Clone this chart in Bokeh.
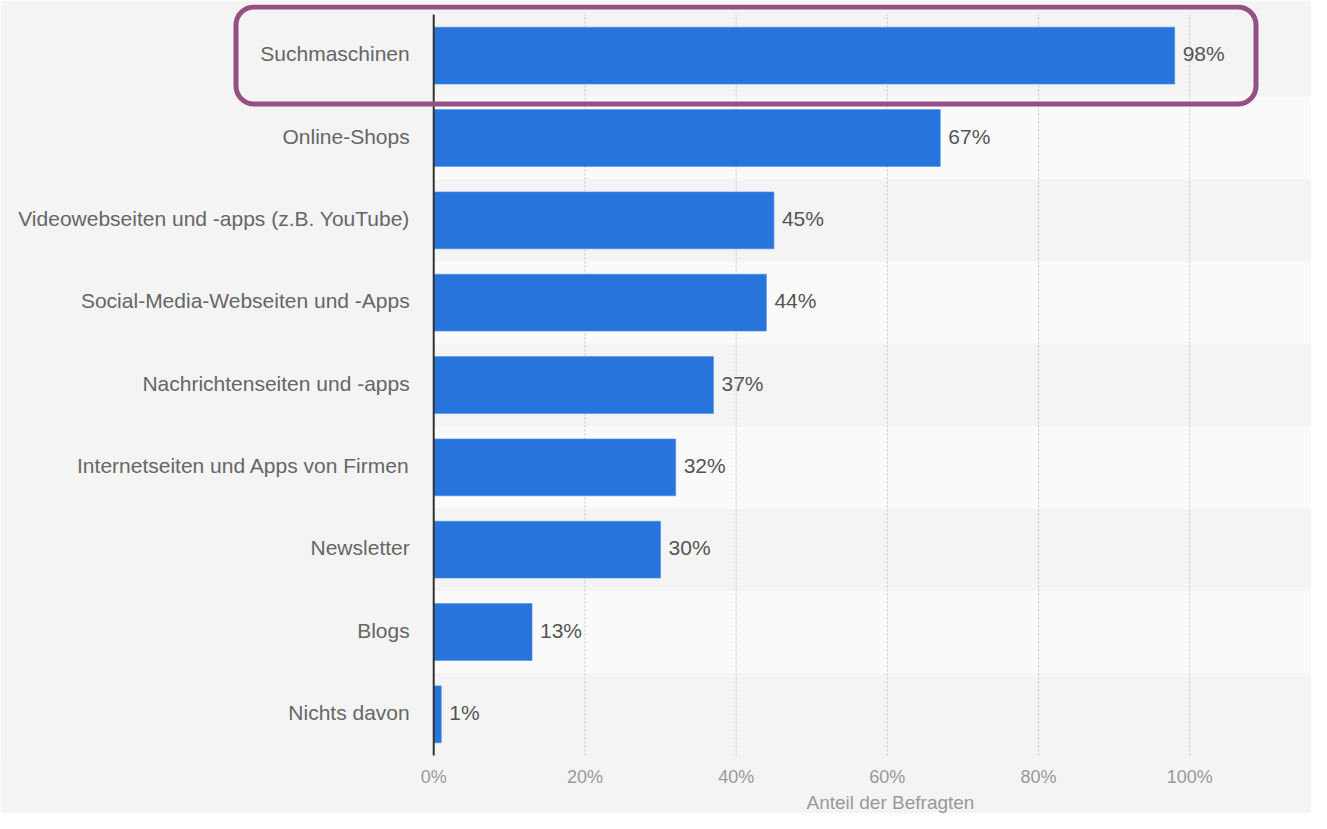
from bokeh.plotting import figure
from bokeh.models import FactorRange, Range1d, FixedTicker, BoxAnnotation, ColumnDataSource, Title
from bokeh.core.properties import value
from bokeh.transform import dodge
from bokeh.embed import file_html
from bokeh.resources import INLINE

# ---- data ----
categories = [
    "Suchmaschinen",
    "Online-Shops",
    "Videowebseiten und -apps (z.B. YouTube)",
    "Social-Media-Webseiten und -Apps",
    "Nachrichtenseiten und -apps",
    "Internetseiten und Apps von Firmen",
    "Newsletter",
    "Blogs",
    "Nichts davon",
]
shares = [98, 67, 45, 44, 37, 32, 30, 13, 1]
share_labels = ["98%", "67%", "45%", "44%", "37%", "32%", "30%", "13%", "1%"]
x_ticks = [0, 20, 40, 60, 80, 100]
x_tick_labels = ["0%", "20%", "40%", "60%", "80%", "100%"]
x_title = "Anteil der Befragten"

FONT = "Liberation Sans"
BG = "#f4f4f4"
BAND = "#fafafa"
BAR = "#2775dc"

X_START, X_END = -57.3, 116.1

p = figure(
    width=1311, height=813,
    y_range=FactorRange(factors=list(reversed(categories)),
                        range_padding=20 / 741, range_padding_units="percent"),
    x_range=Range1d(X_START, X_END),
    y_axis_location=None,
    output_backend="svg", toolbar_location=None,
    min_border_left=0, min_border_right=0, min_border_top=4, min_border_bottom=48,
)
p.background_fill_color = BG
p.border_fill_color = BG
p.outline_line_color = None
p.xgrid.grid_line_color = None
p.ygrid.grid_line_color = None

# alternating row bands (right of the axis)
band_cats = [c for i, c in enumerate(categories) if i % 2 == 1]
p.hbar(y=band_cats, left=0, right=X_END, height=1.0,
       fill_color=BAND, line_color=None)

# dotted vertical grid lines spanning the rows
grid_src = ColumnDataSource(dict(g=x_ticks[1:],
                                 top=[categories[0]] * (len(x_ticks) - 1),
                                 bot=[categories[-1]] * (len(x_ticks) - 1)))
p.segment(x0="g", x1="g",
          y0=dodge("bot", -0.5, range=p.y_range),
          y1=dodge("top", 0.5, range=p.y_range),
          source=grid_src, line_color="#c4c4c4", line_width=1, line_dash="2 2")

# bars
src = ColumnDataSource(dict(cat=categories, val=shares, lab=share_labels))
p.hbar(y="cat", left=0, right="val", height=0.69, source=src,
       fill_color=BAR, line_color="#4a8ce4", line_width=0.6)

# value labels
p.text(x="val", y="cat", text="lab", source=src, x_offset=8, y_offset=-2,
       text_baseline="middle", text_align="left",
       text_font=value(FONT), text_font_size="21px", text_color="#555555")

# category labels
p.text(x=0, y="cat", text="cat", source=src, x_offset=-24, y_offset=-2,
       text_baseline="middle", text_align="right",
       text_font=value(FONT), text_font_size="21px", text_color="#666666")

# vertical axis line at 0 %
edge_src = ColumnDataSource(dict(x=[0], top=[categories[0]], bot=[categories[-1]]))
p.segment(x0="x", x1="x",
          y0=dodge("bot", -0.5, range=p.y_range),
          y1=dodge("top", 0.5, range=p.y_range),
          source=edge_src, line_color="#333333", line_width=2)

# x axis
xa = p.xaxis[0]
xa.ticker = FixedTicker(ticks=x_ticks)
xa.major_label_overrides = {t: l for t, l in zip(x_ticks, x_tick_labels)}
xa.axis_line_color = None
xa.major_tick_line_color = None
xa.minor_tick_line_color = None
xa.major_tick_out = 0
xa.major_tick_in = 0
xa.minor_tick_out = 0
xa.major_label_standoff = 1
xa.major_label_text_font = FONT
xa.major_label_text_font_size = "18px"
xa.major_label_text_color = "#999999"

# axis title below the tick labels
p.add_layout(Title(text=x_title, align="left", offset=806, standoff=0,
                   text_font=FONT, text_font_size="19px",
                   text_font_style="normal", text_color="#999999"), "below")

# highlight frame around the first row (screen units, relative to the plot frame)
hl = BoxAnnotation(left=235.5, right=1255.5, top=758.5, bottom=661.5,
                   left_units="screen", right_units="screen",
                   top_units="screen", bottom_units="screen",
                   fill_color=None, fill_alpha=0,
                   line_color="#964f82", line_alpha=1.0, line_width=5,
                   border_radius=18, level="overlay")
p.add_layout(hl)

open("out.html", "w").write(file_html(p, INLINE))
